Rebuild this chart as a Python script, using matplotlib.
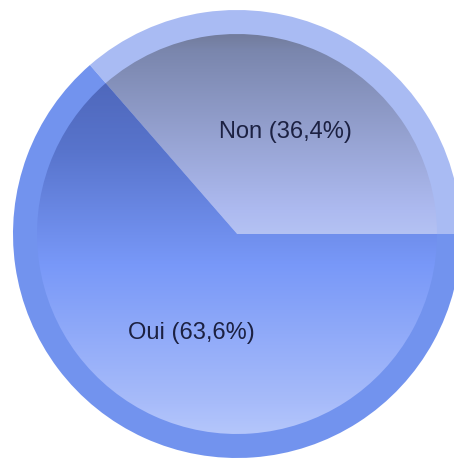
import numpy as np
import matplotlib
matplotlib.use("Agg")
import matplotlib.pyplot as plt
from matplotlib.colors import LinearSegmentedColormap

labels = ["Non", "Oui"]
values = [36.4, 63.6]
label_texts = ["Non (36,4%)", "Oui (63,6%)"]

ring_colors = ["#a9bbf3", "#7293ee"]
# gradient stops from top (0) to bottom (1) of each inner slice
grad_stops = [
    [(0.0, "#727c9c"), (0.08, "#7a86ad"), (0.88, "#adbaf0"), (1.0, "#b4c2f3")],
    [(0.0, "#4f68bc"), (0.19, "#5874cc"), (0.515, "#7898f8"), (0.915, "#a8bcfa"), (1.0, "#b4c6fb")],
]

W, H = 454, 459
fig = plt.figure(figsize=(W / 100, H / 100), dpi=100)
ax = fig.add_axes([0, 0, 1, 1])
ax.set_axis_off()

cx, cy = 237, H - 234
R_out, R_in = 224, 200

# outer ring
ax.pie(values, radius=R_out, center=(cx, cy), startangle=0, counterclock=True,
       colors=ring_colors, wedgeprops=dict(linewidth=0), frame=True)
# inner wedges, used as clip paths for gradients
inner, _ = ax.pie(values, radius=R_in, center=(cx, cy), startangle=0, counterclock=True,
                  colors=["none", "none"], wedgeprops=dict(linewidth=0), frame=True)

for i, w in enumerate(inner):
    bb = w.get_path().get_extents(w.get_patch_transform())
    stops = [(1 - p, c) for p, c in grad_stops[i]][::-1]
    cmap = LinearSegmentedColormap.from_list(f"g{i}", stops)
    grad = np.linspace(0, 1, 512).reshape(-1, 1)
    im = ax.imshow(grad, cmap=cmap, origin="lower", aspect="auto",
                   extent=[cx - R_in, cx + R_in, bb.y0, bb.y1], zorder=2)
    im.set_clip_path(w)

ax.text(285, H - 132, label_texts[0], fontsize=17, family="Liberation Sans",
        color="#1c2142", ha="center", va="center", zorder=5)
ax.text(191, H - 333, label_texts[1], fontsize=17, family="Liberation Sans",
        color="#1c2142", ha="center", va="center", zorder=5)

ax.set_xlim(0, W)
ax.set_ylim(0, H)
ax.set_aspect("auto")
ax.set_axis_off()
fig.savefig("out.png", dpi=100, facecolor="white")
